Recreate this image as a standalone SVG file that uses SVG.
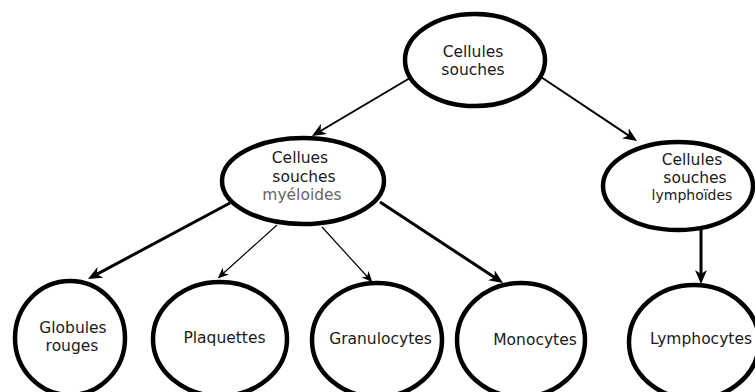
<svg xmlns="http://www.w3.org/2000/svg" width="755" height="392" viewBox="0 0 755 392">
<style>
.node ellipse{fill:#fff;stroke:#000;stroke-width:4.5}
text{font-family:"DejaVu Sans","Liberation Sans",sans-serif;font-size:15.5px;fill:#1a1a1a;text-anchor:middle}
.gray{fill:#666}
.sm{font-size:14px}
.edge{fill:none;stroke:#000}
</style>
<defs>
<marker id="ah" viewBox="0 0 14 12" markerWidth="14" markerHeight="12" markerUnits="userSpaceOnUse" refX="10" refY="6" orient="auto">
<path d="M0,0 L14,6 L0,12 L4,6 z" fill="#000"/>
</marker>
<marker id="ahs" viewBox="0 0 14 12" markerWidth="11" markerHeight="9.5" markerUnits="userSpaceOnUse" refX="10" refY="6" orient="auto">
<path d="M0,0 L14,6 L0,12 L4,6 z" fill="#000"/>
</marker>
</defs>
<rect width="755" height="392" fill="#fff"/>
<g id="connectors">
<line class="edge" x1="410" y1="78" x2="315.4" y2="134" stroke-width="2" marker-end="url(#ah)"/>
<line class="edge" x1="535" y1="73" x2="633.7" y2="138.8" stroke-width="2" marker-end="url(#ah)"/>
<line class="edge" x1="230" y1="203" x2="91.5" y2="277.1" stroke-width="3" marker-end="url(#ah)"/>
<line class="edge" x1="277" y1="225" x2="220" y2="276.3" stroke-width="1.2" marker-end="url(#ahs)"/>
<line class="edge" x1="322" y1="227" x2="370.3" y2="280" stroke-width="1.2" marker-end="url(#ahs)"/>
<line class="edge" x1="380" y1="202" x2="499.7" y2="280.8" stroke-width="3" marker-end="url(#ah)"/>
<line class="edge" x1="701" y1="229" x2="701" y2="280" stroke-width="3" marker-end="url(#ah)"/>
</g>
<g id="n-souches" class="node">
<ellipse cx="475" cy="60" rx="70" ry="46"/>
<text x="473" y="57">Cellules</text>
<text x="473" y="75">souches</text>
</g>
<g id="n-myeloides" class="node">
<ellipse cx="303" cy="181" rx="81" ry="43"/>
<text x="300" y="163">Cellues</text>
<text x="304" y="182">souches</text>
<text x="302" y="200" class="gray">myéloides</text>
</g>
<g id="n-lymphoides" class="node">
<ellipse cx="678" cy="186" rx="75" ry="44"/>
<text x="692" y="165">Cellules</text>
<text x="695" y="183">souches</text>
<text x="692" y="200" class="sm">lymphoïdes</text>
</g>
<g id="n-globules" class="node">
<ellipse cx="70" cy="338" rx="55" ry="57"/>
<text x="73" y="333">Globules</text>
<text x="72" y="351">rouges</text>
</g>
<g id="n-plaquettes" class="node">
<ellipse cx="220" cy="339" rx="67" ry="57"/>
<text x="224.5" y="343">Plaquettes</text>
</g>
<g id="n-granulocytes" class="node">
<ellipse cx="377" cy="340" rx="65" ry="57"/>
<text x="380.5" y="344">Granulocytes</text>
</g>
<g id="n-monocytes" class="node">
<ellipse cx="521" cy="340" rx="64" ry="57"/>
<text x="535" y="345">Monocytes</text>
</g>
<g id="n-lymphocytes" class="node">
<ellipse cx="694" cy="342" rx="65" ry="57"/>
<text x="701" y="344">Lymphocytes</text>
</g>
</svg>
